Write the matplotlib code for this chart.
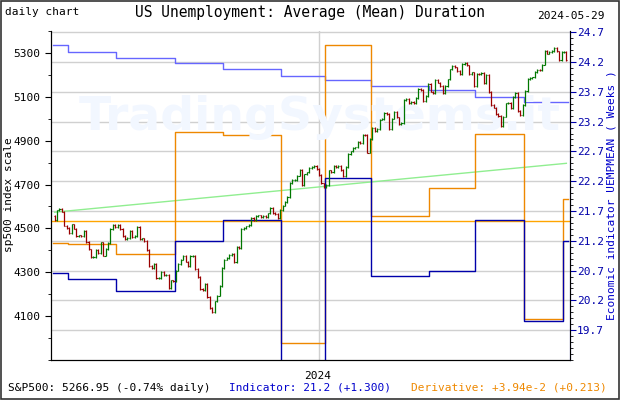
import matplotlib
matplotlib.use("Agg")
import matplotlib.pyplot as plt
import numpy as np
import pandas as pd
from matplotlib.ticker import MultipleLocator, FixedLocator

# S&P500 daily closes, 2023-07-27 .. 2024-05-29 (trading days)
closes = [
 4537, 4582, 4589,
 4577, 4513, 4502, 4478, 4518, 4499, 4467, 4468, 4464, 4490, 4437, 4404, 4370, 4370, 4400, 4388, 4436, 4376, 4406, 4433, 4497, 4514, 4508,
 4516, 4497, 4465, 4451, 4457, 4487, 4462, 4467, 4505, 4450, 4454, 4444, 4402, 4330, 4320, 4337, 4274, 4275, 4300, 4288,
 4288, 4229, 4263, 4258, 4308, 4336, 4358, 4376, 4349, 4327, 4373, 4373, 4315, 4278, 4224, 4217, 4248, 4186, 4137, 4117, 4167, 4194,
 4238, 4318, 4358, 4365, 4378, 4383, 4347, 4415, 4412, 4496, 4503, 4509, 4514, 4547, 4538, 4556, 4559, 4550, 4555, 4551, 4568,
 4595, 4569, 4567, 4549, 4585, 4604, 4622, 4644, 4707, 4719, 4719, 4741, 4768, 4698, 4746, 4755, 4775, 4781, 4783, 4770,
 4743, 4705, 4689, 4697, 4764, 4757, 4783, 4780, 4784, 4766, 4739, 4780, 4840, 4851, 4865, 4869, 4894, 4891, 4928, 4925, 4846,
 4906, 4959, 4942, 4954, 4996, 4998, 5027, 5022, 4953, 5001, 5030, 5006, 4976, 4982, 5087, 5089, 5070, 5078, 5070, 5096,
 5137, 5131, 5079, 5105, 5157, 5124, 5117, 5175, 5165, 5150, 5117, 5149, 5179, 5225, 5241, 5234, 5218, 5204, 5248, 5254,
 5243, 5205, 5211, 5147, 5204, 5202, 5209, 5161, 5199, 5123, 5061, 5051, 5022, 5011, 4967, 5010, 5070, 5071, 5048, 5100, 5116, 5036,
 5018, 5064, 5128, 5181, 5187, 5188, 5214, 5223, 5221, 5247, 5308, 5297, 5303, 5308, 5321, 5307, 5268, 5305, 5306, 5267,
]
holidays = ["2023-09-04", "2023-11-23", "2023-12-25", "2024-01-01", "2024-01-15",
            "2024-02-19", "2024-03-29", "2024-05-27"]
dates = [d for d in pd.bdate_range("2023-07-27", "2024-05-29") if d.strftime("%Y-%m-%d") not in holidays]
n = min(len(dates), len(closes))
dates = dates[:n]; closes = closes[:n]
opens = [closes[0] + 20] + closes[:-1]

# Step series (right axis, weeks) with start dates
step_dates = ["2023-07-27", "2023-08-04", "2023-09-01", "2023-10-06", "2023-11-03", "2023-12-08",
              "2024-01-05", "2024-02-02", "2024-03-08", "2024-04-05", "2024-05-03", "2024-05-28"]
indicator = [20.66, 20.56, 20.36, 21.19, 21.55, 19.10, 22.25, 20.61, 20.69, 21.55, 19.85, 21.2]
derivative = [21.17, 21.14, 20.98, 23.03, 22.97, 19.48, 24.48, 21.61, 22.08, 23.00, 19.88, 21.9]
long_avg = [24.48, 24.37, 24.26, 24.18, 24.09, 23.96, 23.89, 23.79, 23.73, 23.62, 23.53, 23.53]
trend_ends = [21.68, 22.50]
ref_level = 21.54

dstr = [d.strftime("%Y-%m-%d") for d in dates]
def idx(s):
    for i, d in enumerate(dstr):
        if d >= s:
            return i
    return n - 1
step_x = [idx(s) - 0.5 for s in step_dates] + [n - 0.5]

fig = plt.figure(figsize=(6.2, 4.0), dpi=100)
mono = "DejaVu Sans Mono"
fs = 8
fig.text(320/620, 1-118/400, "TradingSystems.it", ha="center", va="center", fontsize=34,
         fontweight="bold", color="#f2f7ff", zorder=0)
ax = fig.add_axes([51/620, 1-360/400, 519/620, 329/400])
ax2 = ax.twinx()
ax.set_zorder(2); ax.patch.set_visible(False); ax2.patch.set_visible(False)

x = np.arange(n)
for i in x:
    o, c = opens[i], closes[i]
    col = "#007700" if c >= o else "#990000"
    lo, hi = min(o, c) - 4, max(o, c) + 4
    ax.vlines(i, lo, hi, color=col, lw=0.9)
    ax.hlines(o, i - 0.45, i, color=col, lw=0.8)
    ax.hlines(c, i, i + 0.45, color=col, lw=0.8)

ax.set_ylim(3900, 5400)
ax.set_xlim(-1.5, n + 0.5)
ax.yaxis.set_major_locator(FixedLocator([4100, 4300, 4500, 4700, 4900, 5100, 5300]))
ax.yaxis.set_minor_locator(MultipleLocator(100))

def steps(vals, color, lw=1.0):
    xs, ys = [], []
    for k, v in enumerate(vals):
        xs += [step_x[k], step_x[k+1]]
        ys += [v, v]
    ax2.plot(xs, ys, color=color, lw=lw)

ax2.set_ylim(19.2, 24.72)
ax2.yaxis.set_major_locator(FixedLocator(np.arange(19.7, 24.8, 0.5)))
ax2.yaxis.set_minor_locator(MultipleLocator(0.1))
ax2.grid(True, axis="y", color="#d0d0d0", lw=1)
ax2.axvline(idx("2024-01-02"), color="#d0d0d0", lw=1)
ax2.plot([0, n - 1], trend_ends, color="#90ee90", lw=1)
ax2.axhline(ref_level, color="#ffa500", lw=1)
steps(long_avg, "#6666ff")
steps(derivative, "#ee8800")
steps(indicator, "#0000aa")
ax2.set_ylabel("Economic indicator UEMPMEAN ( Weeks )", family=mono, fontsize=fs, color="#0000cc", labelpad=2)
ax2.tick_params(axis="y", colors="#0000aa", labelsize=fs, length=4, pad=1)
ax2.tick_params(axis="y", which="minor", length=2)
ax.tick_params(axis="y", labelsize=fs, length=4)
ax.tick_params(axis="y", which="minor", length=2)
for t in ax2.get_yticklabels():
    t.set_color("#0000aa"); t.set_family(mono)
for t in ax.get_yticklabels():
    t.set_family(mono)
ax.set_xticks([])
for a in (ax, ax2):
    a.spines["top"].set_visible(False)
ax2.spines["right"].set_color("#0000aa")

fig.text(9/620, 1-195/400, "sp500 index scale", family=mono, fontsize=fs, rotation=90,
         ha="center", va="center")
fig.text(318/620, 1-(360+16)/400, "2024", ha="center", va="center", family=mono, fontsize=fs)
fig.text(5/620, 1-12/400, "daily chart", family=mono, fontsize=fs, va="center")
fig.text(310/620, 1-12/400, "US Unemployment: Average (Mean) Duration", family=mono,
         fontsize=10.5, ha="center", va="center")
fig.text(605/620, 1-16/400, "2024-05-29", family=mono, fontsize=fs, ha="right", va="center")
fig.text(8/620, 1-388/400, "S&P500: 5266.95 (-0.74% daily)", family=mono, fontsize=fs, va="center")
fig.text(229/620, 1-388/400, "Indicator: 21.2 (+1.300)", family=mono, fontsize=fs, va="center", color="#0000cc")
fig.text(607/620, 1-388/400, "Derivative: +3.94e-2 (+0.213)", family=mono, fontsize=fs, va="center",
         ha="right", color="#ee8800")
fig.patches.append(plt.Rectangle((0.002, 0.003), 0.996, 0.994, transform=fig.transFigure,
                                 fill=False, edgecolor="#333333", lw=1.2))
fig.savefig("out.png", dpi=100)
